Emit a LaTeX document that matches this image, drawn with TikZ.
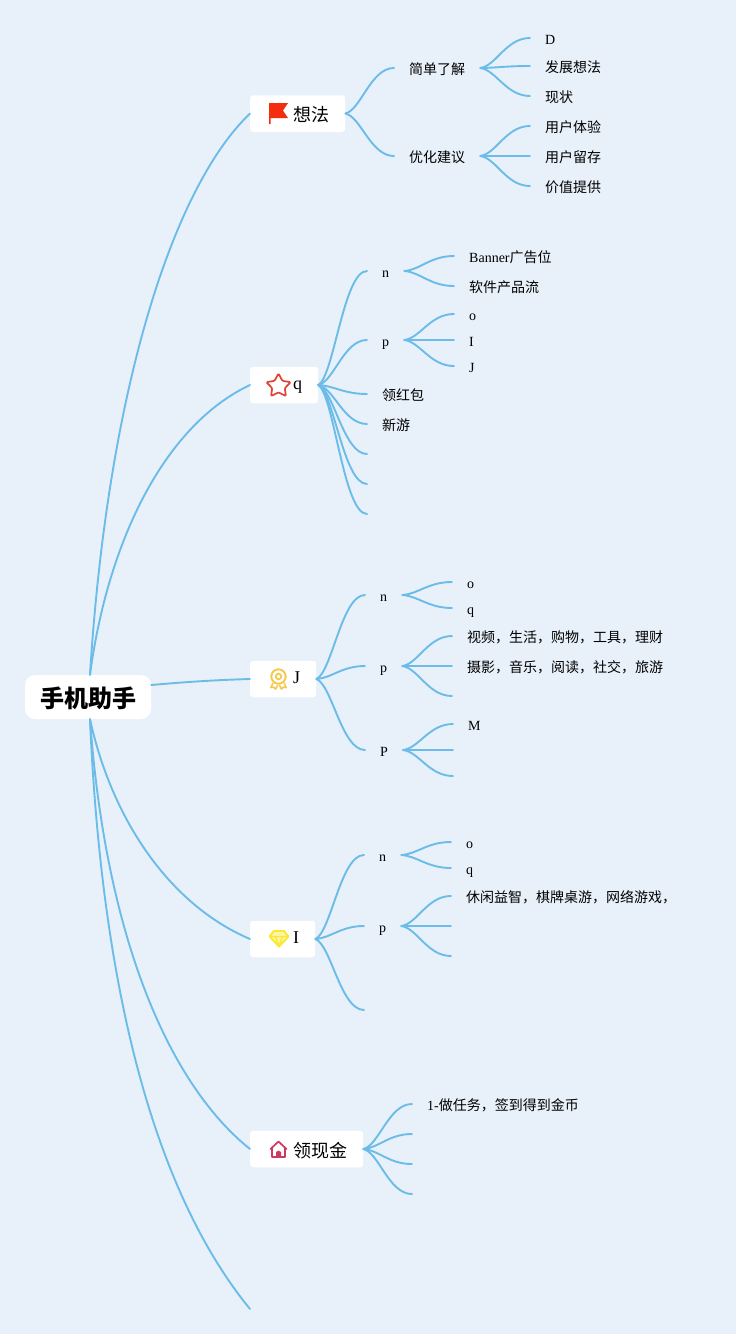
\documentclass[tikz,border=0pt]{standalone}
\usepackage{fontspec}
\setmainfont{Liberation Serif}
\newfontfamily\cjk{Noto Sans CJK SC}
\newcommand{\zh}[1]{{\cjk #1}}
\usetikzlibrary{calc}
\definecolor{bgc}{RGB}{232,241,250}
\definecolor{linec}{RGB}{107,188,232}
\definecolor{flagc}{RGB}{244,44,16}
\definecolor{starc}{RGB}{226,66,48}
\definecolor{badgec}{RGB}{246,200,72}
\definecolor{gemc}{RGB}{250,232,50}
\definecolor{housec}{RGB}{208,56,96}
\tikzset{
  x=1pt,y=-1pt,
  wire/.style={draw=linec,line width=1.9pt,line cap=round},
  link/.style={wire,to path={let \p1=(\tikztostart),\p2=(\tikztotarget) in
    .. controls ({\x1+.32*(\x2-\x1)},{\y1+.08*(\y2-\y1)}) and ({\x1+.52*(\x2-\x1)},\y2) .. (\tikztotarget)}},
  rootbox/.style={fill=white,rounded corners=10pt,minimum width=126pt,minimum height=44pt,inner sep=0pt,text height=23pt,text depth=3pt,font=\cjk\bfseries\fontsize{24}{28}\selectfont,text=black},
  topic/.style={fill=white,rounded corners=3pt,anchor=west,minimum height=36.5pt,inner xsep=0pt,inner ysep=0pt,text height=12pt,text depth=4pt,font=\fontsize{18}{22}\selectfont,text=black},
  topiczh/.style={topic,text height=17pt,text depth=2pt},
  leaf/.style={anchor=west,inner xsep=15pt,inner ysep=0pt,text height=13pt,text depth=1pt,font=\fontsize{14}{17}\selectfont,text=black},
}
\newcommand{\tp}[1]{\hspace*{43pt}#1\hspace*{16pt}}
\begin{document}
\begin{tikzpicture}
\useasboundingbox (0,0) rectangle (736,1334);
\fill[bgc] (0,0) rectangle (736,1334);
% nodes
\node[rootbox] (root) at (88,697) {手机助手};
\node[topiczh] (t1) at (250,113.5) {\tp{\zh{想法}}};
\node[topic] (t2) at (250,385) {\tp{q}};
\node[topic] (t3) at (250,679) {\tp{J}};
\node[topic] (t4) at (250,939) {\tp{I}};
\node[topiczh,text height=18pt] (t5) at (250,1149) {\tp{\zh{领现金}}};
\coordinate (t6) at (250,1309);
% branch 1
\node[leaf] (a1) at (394,68) {\zh{简单了解}};
\node[leaf] (a2) at (394,156) {\zh{优化建议}};
\node[leaf] (a11) at (530,38) {D};
\node[leaf] (a12) at (530,66) {\zh{发展想法}};
\node[leaf] (a13) at (530,96) {\zh{现状}};
\node[leaf] (a21) at (530,126) {\zh{用户体验}};
\node[leaf] (a22) at (530,156) {\zh{用户留存}};
\node[leaf] (a23) at (530,186) {\zh{价值提供}};
% branch 2
\node[leaf] (b1) at (367,271) {n};
\node[leaf] (b2) at (367,340) {p};
\node[leaf] (b3) at (367,394) {\zh{领红包}};
\node[leaf] (b4) at (367,424) {\zh{新游}};
\coordinate (b5) at (367,454);
\coordinate (b6) at (367,484);
\coordinate (b7) at (367,514);
\node[leaf] (b11) at (454,256) {Banner\zh{广告位}};
\node[leaf] (b12) at (454,286) {\zh{软件产品流}};
\node[leaf] (b21) at (454,314) {o};
\node[leaf] (b22) at (454,340) {I};
\node[leaf] (b23) at (454,366) {J};
% branch 3
\node[leaf] (c1) at (365,595) {n};
\node[leaf] (c2) at (365,666) {p};
\node[leaf] (c3) at (365,750) {P};
\node[leaf] (c11) at (452,582) {o};
\node[leaf] (c12) at (452,608) {q};
\node[leaf] (c21) at (452,636) {\zh{视频，生活，购物，工具，理财}};
\node[leaf] (c22) at (452,666) {\zh{摄影，音乐，阅读，社交，旅游}};
\coordinate (c23) at (452,696);
\node[leaf] (c31) at (453,724) {M};
\coordinate (c32) at (453,750);
\coordinate (c33) at (453,776);
% branch 4
\node[leaf] (d1) at (364,855) {n};
\node[leaf] (d2) at (364,926) {p};
\coordinate (d3) at (364,1010);
\node[leaf] (d11) at (451,842) {o};
\node[leaf] (d12) at (451,868) {q};
\node[leaf] (d21) at (451,896) {\zh{休闲益智，棋牌桌游，网络游戏，}};
\coordinate (d22) at (451,926);
\coordinate (d23) at (451,956);
% branch 5
\node[leaf] (e1) at (412,1104) {1-\zh{做任务，签到得到金币}};
\coordinate (e2) at (412,1134);
\coordinate (e3) at (412,1164);
\coordinate (e4) at (412,1194);
% root connectors
\coordinate (rt) at ([xshift=2pt]root.north);
\coordinate (rb) at ([xshift=2pt]root.south);
\coordinate (re) at ([yshift=12pt]root.east);
\draw[wire] (rt) .. controls (107,400) and (170,190) .. (t1.west);
\draw[wire] (rt) .. controls (108,540) and (165,425) .. (t2.west);
\draw[wire] (re) .. controls (185,682) and (215,680) .. (t3.west);
\draw[wire] (rb) .. controls (112,820) and (170,905) .. (t4.west);
\draw[wire] (rb) .. controls (106,940) and (170,1085) .. (t5.west);
\draw[wire] (rb) .. controls (103,1020) and (165,1205) .. (t6);
% branches
\foreach \s/\e in {t1/a1,t1/a2,t2/b1,t2/b2,t2/b3,t2/b4,t3/c1,t3/c2,t3/c3,t4/d1,t4/d2,t5/e1,
  a1/a11,a1/a12,a1/a13,a2/a21,a2/a22,a2/a23,b1/b11,b1/b12,b2/b21,b2/b22,b2/b23,
  c1/c11,c1/c12,c2/c21,c2/c22,c3/c31,d1/d11,d1/d12,d2/d21}
  \draw[link] (\s.east) to (\e.west);
\foreach \s/\e in {t2/b5,t2/b6,t2/b7,t4/d3,t5/e2,t5/e3,t5/e4,c2/c23,c3/c32,c3/c33,d2/d22,d2/d23}
  \draw[link] (\s.east) to (\e);
% icons
\fill[flagc] (269,103) -- (288,103) -- (283,110.5) -- (288,118) -- (270.5,118) -- (270.5,124) -- (269,124) -- cycle;
\draw[starc,line width=1.7pt,line join=round,rounded corners=1pt]
  (278.5,373.5) -- (282.4,380.8) -- (290.6,382.2) -- (284.8,388.2) -- (285.9,396) -- (278.5,392.4) -- (271.1,396) -- (272.2,388.2) -- (266.4,382.2) -- (274.6,380.8) -- cycle;
\draw[badgec,line width=1.9pt] (278.5,676.5) circle (7.2);
\draw[badgec,line width=1.7pt] (278.5,676.5) circle (2.8);
\draw[badgec,line width=1.5pt,line join=round] (273,683) -- (270.8,687.6) -- (273.8,687.2) -- (275.5,689.2) -- (277.6,685);
\draw[badgec,line width=1.5pt,line join=round] (284,683) -- (286.2,687.6) -- (283.2,687.2) -- (281.5,689.2) -- (279.4,685);
\draw[gemc,fill=gemc!45!white,line width=1.9pt,line join=round] (274,931) -- (284,931) -- (288.5,936.5) -- (279,946.5) -- (269.5,936.5) -- cycle;
\draw[gemc,line width=1.4pt,line join=round] (269.5,936.5) -- (288.5,936.5) (275.5,936.5) -- (279,946.5) -- (282.5,936.5);
\draw[housec,line width=1.7pt,line join=round,line cap=round] (270.5,1149) -- (278.5,1141.5) -- (286.5,1149) (272,1148) -- (272,1157) -- (285,1157) -- (285,1148);
\fill[housec] (276,1157) -- (276,1152) -- (278.5,1150.5) -- (281,1152) -- (281,1157) -- cycle;
\end{tikzpicture}
\end{document}
